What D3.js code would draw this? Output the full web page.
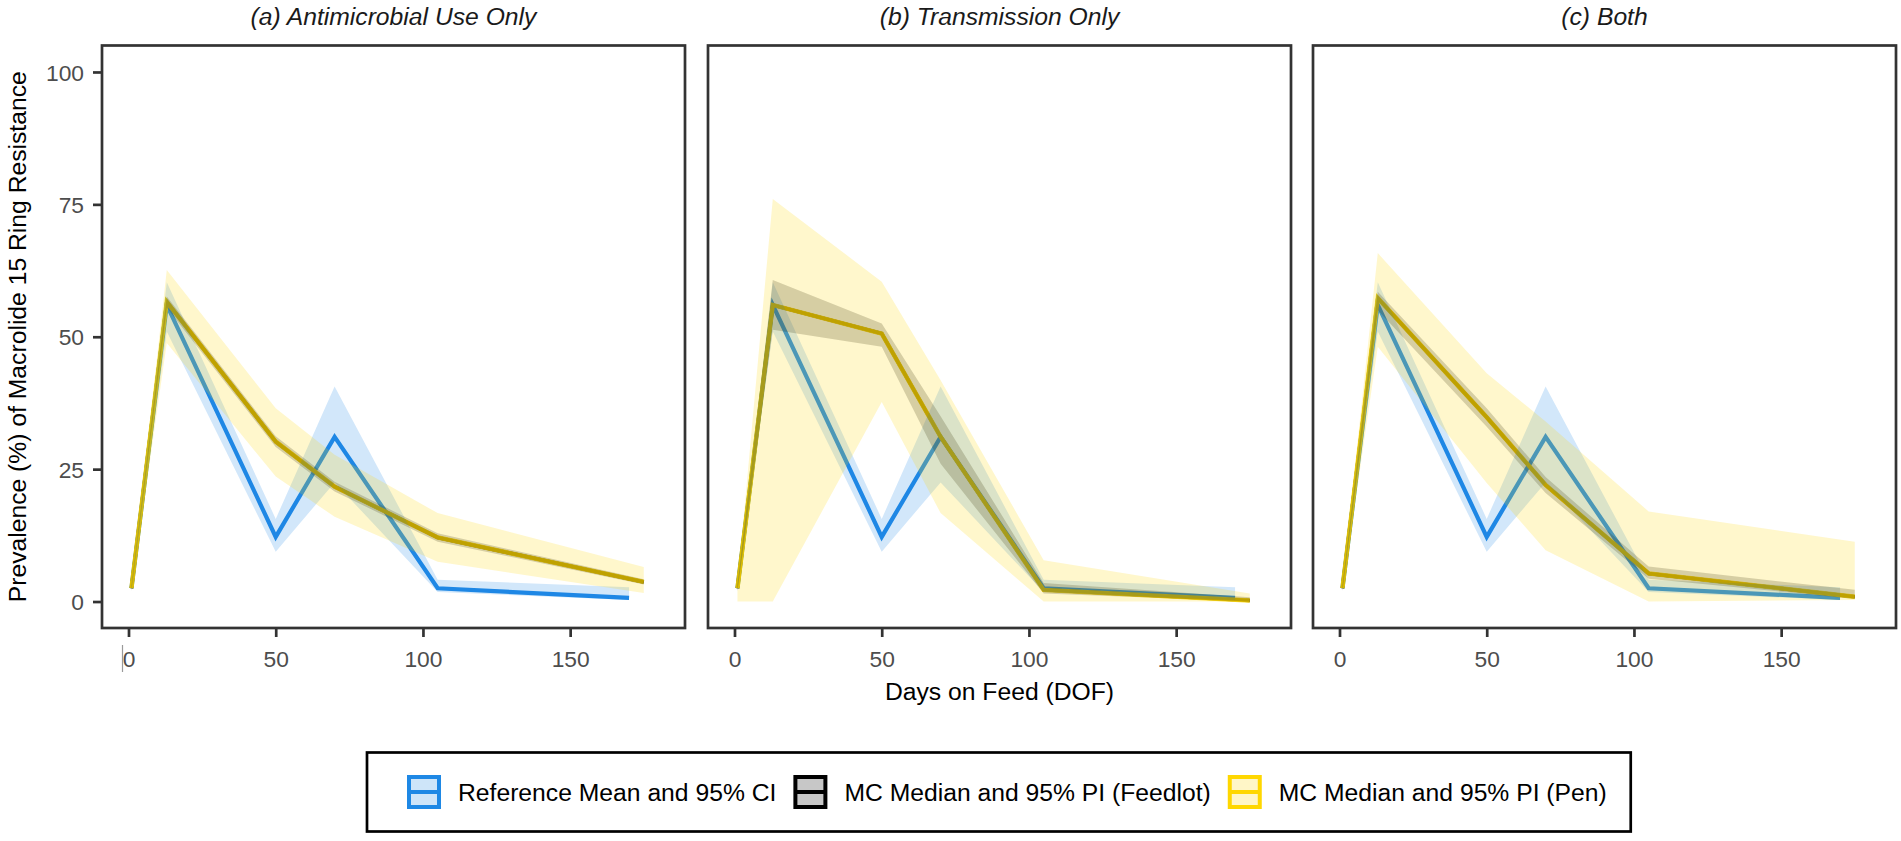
<!DOCTYPE html>
<html>

<head>
    <meta charset="utf-8">
    <title>Macrolide 15 Ring Resistance</title>
    <script src="https://cdn.jsdelivr.net/npm/d3@7" charset="utf-8"></script>
    <style type="text/css">
        body {
            margin: 0;
            background: #fff;
            font-family: "Liberation Sans", Arial, sans-serif;
        }

        .tick-label {
            fill: #4d4d4d;
            font-size: 22.8px;
        }

        .axis-title {
            fill: #000;
            font-size: 24.7px;
        }

        .strip {
            fill: #1a1a1a;
            font-size: 24.7px;
            font-style: italic;
        }

        .legend-text {
            fill: #000;
            font-size: 24.7px;
        }
    </style>
</head>

<body>
</body>

<script type="text/javascript">
    // data
    var panelTitles = ["(a) Antimicrobial Use Only", "(b) Transmission Only", "(c) Both"];

    var refDays = [1, 13, 50, 70, 105, 170];
    var mcDays = [1, 13, 50, 70, 105, 175];

    var xTicks = [0, 50, 100, 150];
    var yTicks = [0, 25, 50, 75, 100];

    // reference mean and 95% CI (same in every panel)
    var refMean = [2.5, 56.0, 12.2, 31.1, 2.5, 0.7];
    var refLower = [2.0, 51.0, 9.4, 22.5, 1.8, 0.3];
    var refUpper = [3.2, 60.3, 15.6, 40.6, 4.1, 2.7];

    // MC median and 95% PI, pen level (one row per panel)
    var penMedian = [
        [2.5, 56.6, 30.2, 21.7, 12.1, 3.7],
        [2.5, 56.0, 50.6, 31.1, 2.2, 0.2],
        [2.5, 57.3, 34.8, 22.0, 5.3, 0.9]
    ];
    var penLower = [
        [2.0, 48.8, 23.6, 16.0, 7.5, 1.6],
        [0.0, 0.0, 37.7, 16.7, 0.0, 0.0],
        [2.0, 48.1, 22.4, 9.7, 0.0, 0.3]
    ];
    var penUpper = [
        [3.0, 62.6, 36.5, 27.7, 16.7, 6.5],
        [3.0, 76.0, 60.4, 41.8, 7.8, 1.5],
        [3.5, 65.8, 43.1, 34.0, 17.0, 11.3]
    ];

    // MC median and 95% PI, feedlot level
    var feedlotMedian = [
        [2.5, 56.6, 30.2, 21.7, 12.1, 3.7],
        [2.5, 56.0, 50.6, 31.1, 2.2, 0.2],
        [2.5, 57.3, 34.8, 22.0, 5.3, 0.9]
    ];
    var feedlotLower = [
        [2.2, 55.5, 29.2, 20.8, 11.3, 3.2],
        [2.0, 51.3, 48.1, 26.0, 1.5, 0.0],
        [2.1, 55.0, 33.0, 20.5, 4.3, 0.5]
    ];
    var feedlotUpper = [
        [2.8, 57.6, 31.2, 22.6, 12.9, 4.2],
        [3.0, 60.7, 52.5, 35.0, 3.5, 0.8],
        [3.0, 58.5, 36.5, 23.5, 6.6, 2.2]
    ];

    var legendLabels = ["Reference Mean and 95% CI", "MC Median and 95% PI (Feedlot)", "MC Median and 95% PI (Pen)"];

    var blue = "#1E88E5",
        black = "#000000",
        gold = "#FFD700";
    var legendColors = [blue, black, gold];

    // layout
    var width = 1901,
        height = 841;
    var panelLeft = [102, 708, 1313],
        panelW = 583,
        panelTop = 45.5,
        panelH = 582.5;

    // ggplot style 5% expansion
    function expand(lo, hi) {
        var pad = (hi - lo) * 0.05;
        return [lo - pad, hi + pad];
    }

    var xLimits = expand(0, 180);
    var yLimits = expand(0, 100);

    var y = d3.scaleLinear()
        .domain(yLimits)
        .range([panelTop + panelH, panelTop]);

    function rows(days, mid, lo, hi) {
        return days.map(function (d, i) {
            return { day: d, mid: mid[i], lo: lo[i], hi: hi[i] };
        });
    }

    var svg = d3.select("body").append("svg")
        .attr("width", width)
        .attr("height", height);

    svg.append("rect")
        .attr("width", width)
        .attr("height", height)
        .attr("fill", "#fff");

    panelTitles.forEach(function (title, p) {
        var x = d3.scaleLinear()
            .domain(xLimits)
            .range([panelLeft[p], panelLeft[p] + panelW]);

        var line = d3.line()
            .x(function (d) { return x(d.day); })
            .y(function (d) { return y(d.mid); });

        var area = d3.area()
            .x(function (d) { return x(d.day); })
            .y0(function (d) { return y(d.lo); })
            .y1(function (d) { return y(d.hi); });

        var ref = rows(refDays, refMean, refLower, refUpper);
        var feed = rows(mcDays, feedlotMedian[p], feedlotLower[p], feedlotUpper[p]);
        var pen = rows(mcDays, penMedian[p], penLower[p], penUpper[p]);

        var g = svg.append("g");

        g.append("defs").append("clipPath")
            .attr("id", "clip" + p)
            .append("rect")
            .attr("x", panelLeft[p])
            .attr("y", panelTop)
            .attr("width", panelW)
            .attr("height", panelH);

        var plot = g.append("g").attr("clip-path", "url(#clip" + p + ")");

        // lines first, ribbons on top (that is how the overlaps look)
        plot.append("path").datum(ref)
            .attr("d", line)
            .attr("fill", "none")
            .attr("stroke", blue)
            .attr("stroke-width", 4.2);

        plot.append("path").datum(feed)
            .attr("d", line)
            .attr("fill", "none")
            .attr("stroke", black)
            .attr("stroke-width", 3.6);

        plot.append("path").datum(pen)
            .attr("d", line)
            .attr("fill", "none")
            .attr("stroke", gold)
            .attr("stroke-opacity", 0.86)
            .attr("stroke-width", 4.4);

        plot.append("path").datum(ref)
            .attr("d", area)
            .attr("fill", blue)
            .attr("fill-opacity", 0.2);

        plot.append("path").datum(feed)
            .attr("d", area)
            .attr("fill", black)
            .attr("fill-opacity", 0.2);

        plot.append("path").datum(pen)
            .attr("d", area)
            .attr("fill", gold)
            .attr("fill-opacity", 0.2);

        // panel border
        g.append("rect")
            .attr("x", panelLeft[p])
            .attr("y", panelTop)
            .attr("width", panelW)
            .attr("height", panelH)
            .attr("fill", "none")
            .attr("stroke", "#333")
            .attr("stroke-width", 2.7);

        // strip title
        g.append("text")
            .attr("class", "strip")
            .attr("x", panelLeft[p] + panelW / 2)
            .attr("y", 25)
            .attr("text-anchor", "middle")
            .text(title);

        // x axis
        var xAxis = d3.axisBottom(x)
            .tickValues(xTicks)
            .tickSizeInner(9)
            .tickSizeOuter(0)
            .tickPadding(7);

        var gx = g.append("g")
            .attr("transform", "translate(0," + (panelTop + panelH) + ")")
            .call(xAxis);
        gx.select(".domain").remove();
        gx.selectAll(".tick line")
            .attr("stroke", "#333")
            .attr("stroke-width", 2.7);
        gx.selectAll(".tick text")
            .attr("class", "tick-label")
            .attr("font-family", null)
            .attr("font-size", null)
            .attr("fill", null)
            .attr("dy", null)
            .attr("y", 38.5);

        if (p === 0) {
            // y axis only on the first panel
            var yAxis = d3.axisLeft(y)
                .tickValues(yTicks)
                .tickSizeInner(9)
                .tickSizeOuter(0)
                .tickPadding(9);

            var gy = g.append("g")
                .attr("transform", "translate(" + panelLeft[p] + ",0)")
                .call(yAxis);
            gy.select(".domain").remove();
            gy.selectAll(".tick line")
                .attr("stroke", "#333")
                .attr("stroke-width", 2.7);
            gy.selectAll(".tick text")
                .attr("class", "tick-label")
                .attr("font-family", null)
                .attr("font-size", null)
                .attr("fill", null)
                .attr("dy", "0.36em");

            // little stray mark left of the "0" label in the source image
            g.append("line")
                .attr("x1", x(0) - 6).attr("x2", x(0) - 6)
                .attr("y1", panelTop + panelH + 17)
                .attr("y2", panelTop + panelH + 44)
                .attr("stroke", "#9a9a9a")
                .attr("stroke-width", 1.2);
        }
    });

    // axis titles
    svg.append("text")
        .attr("class", "axis-title")
        .attr("x", panelLeft[1] + panelW / 2)
        .attr("y", 700)
        .attr("text-anchor", "middle")
        .text("Days on Feed (DOF)");

    svg.append("text")
        .attr("class", "axis-title")
        .attr("transform", "translate(25.5," + (panelTop + panelH / 2) + ") rotate(-90)")
        .attr("text-anchor", "middle")
        .text("Prevalence (%) of Macrolide 15 Ring Resistance");

    // legend
    var legend = svg.append("g");
    var boxX = 367,
        boxY = 752.5,
        boxH = 79,
        keySize = 34,
        keyY = 775,
        gap = 17;

    var cursor = boxX + 40;
    legendLabels.forEach(function (label, i) {
        var key = legend.append("g");
        key.append("rect")
            .attr("x", cursor + 2)
            .attr("y", keyY + 2)
            .attr("width", keySize - 4)
            .attr("height", keySize - 4)
            .attr("fill", "#fff");
        key.append("rect")
            .attr("x", cursor + 2)
            .attr("y", keyY + 2)
            .attr("width", keySize - 4)
            .attr("height", keySize - 4)
            .attr("fill", legendColors[i])
            .attr("fill-opacity", 0.22)
            .attr("stroke", legendColors[i])
            .attr("stroke-width", 4);
        key.append("line")
            .attr("x1", cursor + 2)
            .attr("x2", cursor + keySize - 2)
            .attr("y1", keyY + keySize / 2)
            .attr("y2", keyY + keySize / 2)
            .attr("stroke", legendColors[i])
            .attr("stroke-width", 4);

        var t = legend.append("text")
            .attr("class", "legend-text")
            .attr("x", cursor + keySize + gap)
            .attr("y", keyY + keySize / 2)
            .attr("dy", "0.36em")
            .text(label);

        cursor = cursor + keySize + gap + t.node().getComputedTextLength() + gap;
    });

    var boxW = cursor - gap + 24 - boxX;
    legend.insert("rect", ":first-child")
        .attr("x", boxX)
        .attr("y", boxY)
        .attr("width", boxW)
        .attr("height", boxH)
        .attr("fill", "#fff")
        .attr("stroke", "#000")
        .attr("stroke-width", 2.7);
</script>

</html>
